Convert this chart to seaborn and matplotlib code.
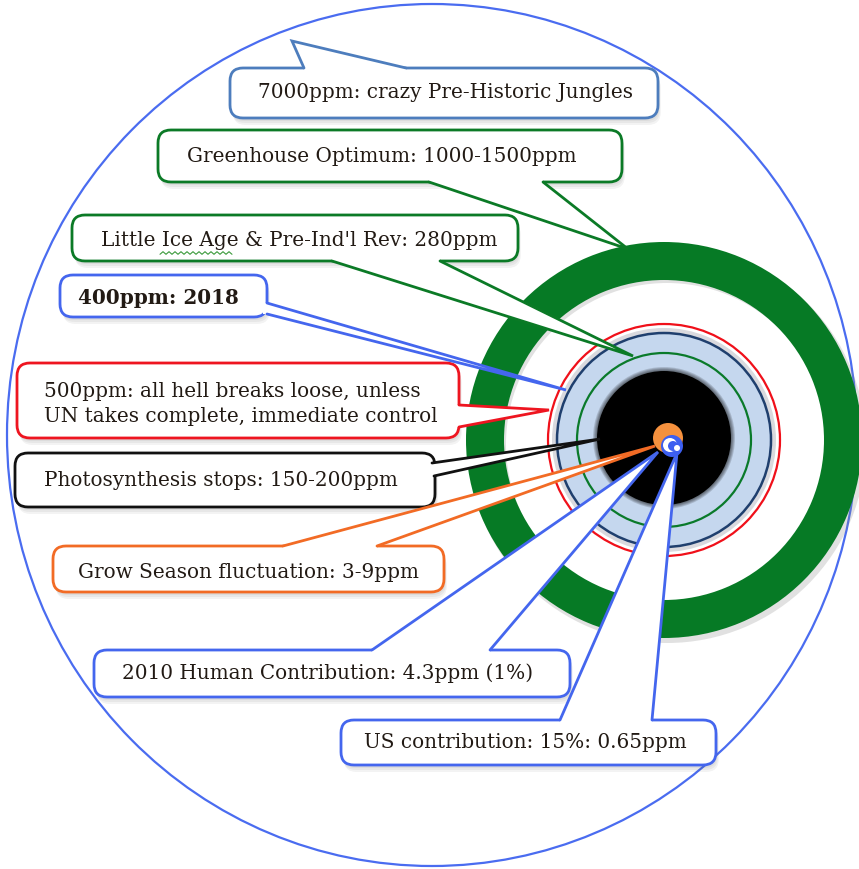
import numpy as np
import pandas as pd
import matplotlib.pyplot as plt
import seaborn as sns
from matplotlib.patches import Circle, Ellipse, Annulus, FancyBboxPatch, Polygon

sns.set_theme(style="white")
plt.rcParams['font.family'] = ['DejaVu Serif', 'Liberation Serif']

# callout texts, outline colours
labels = [
    "7000ppm: crazy Pre-Historic Jungles",
    "Greenhouse Optimum: 1000-1500ppm",
    "Little Ice Age & Pre-Ind'l Rev: 280ppm",
    "400ppm: 2018",
    "500ppm: all hell breaks loose, unless\nUN takes complete, immediate control",
    "Photosynthesis stops: 150-200ppm",
    "Grow Season fluctuation: 3-9ppm",
    "2010 Human Contribution: 4.3ppm (1%)",
    "US contribution: 15%: 0.65ppm",
]
colors = ["#4d7dbd", "#0b7a26", "#0b7a26", "#4466ee", "#ee1520",
          "#111111", "#f26b25", "#4466ee", "#4466ee"]
bold = [False, False, False, True, False, False, False, False, False]

# box extents (left, top, right, bottom) in pixels
boxes = [(230, 68, 658, 118), (158, 130, 622, 182), (72, 215, 518, 261),
         (60, 275, 267, 317), (17, 363, 459, 438), (15, 453, 435, 507),
         (53, 546, 444, 592), (94, 650, 570, 697), (341, 720, 716, 765)]
text_pos = [(258, 93), (187, 157), (101, 241), (78, 298), (44, 404),
            (44, 480), (78, 573), (122, 673), (364, 743)]

# tails: base point 1, tip, base point 2, inward direction
tails = [((304, 68), (292, 41), (406, 68), (0, 1)),
         ((429, 182), (628, 249), (543, 182), (0, -1)),
         ((332, 261), (633, 356), (440, 261), (0, -1)),
         ((267, 303), (566, 390), (267, 314), (-1, 0)),
         ((459, 405), (549, 410), (459, 427), (-1, 0)),
         ((432, 463), (600, 439), (434, 476), (-1, 0)),
         ((283, 546), (655, 446), (377, 546), (0, 1)),
         ((372, 650), (658, 452), (490, 650), (0, 1)),
         ((560, 720), (677, 453), (652, 720), (0, 1))]

cx, cy = 664, 440

fig = plt.figure(figsize=(8.59, 8.69), dpi=100)
ax = fig.add_axes([0, 0, 1, 1])

# outer big circle
ax.add_patch(Ellipse((432, 435), 850, 862, fc='none', ec="#4a6cf0", lw=1.6, zorder=1))

# rings
ax.add_patch(Annulus((cx + 3, cy + 4), 199, 38, fc='#888888', ec='none', alpha=0.25, zorder=1.5))
ax.add_patch(Annulus((cx, cy), 198, 38, fc="#067a25", ec='none', zorder=2))
ax.add_patch(Circle((cx, cy), 116, fc='white', ec="#f0101a", lw=1.6, zorder=2))
ax.add_patch(Annulus((cx, cy), 112, 5, fc='#d9d9de', ec='none', zorder=2))
ax.add_patch(Circle((cx, cy), 107, fc="#c5d7ee", ec="#1f3f6e", lw=1.8, zorder=2))
ax.add_patch(Circle((cx, cy), 87, fc='none', ec="#0a7a2a", lw=1.6, zorder=2))
for r in np.arange(71, 67, -1):
    ax.add_patch(Circle((cx, cy - 2), r, fc='black', ec='none', alpha=0.15, zorder=2))
ax.add_patch(Circle((cx, cy - 2), 67, fc='black', ec='none', zorder=2))

# boxes with soft shadows
for (l, t, r, b), col in zip(boxes, colors):
    for off in [7, 5, 3]:
        ax.add_patch(FancyBboxPatch((l + off * 0.4, t + off), r - l, b - t,
                                    boxstyle="round,pad=0,rounding_size=13",
                                    fc='#555555', ec='none', alpha=0.07, zorder=3))
    ax.add_patch(FancyBboxPatch((l, t), r - l, b - t,
                                boxstyle="round,pad=0,rounding_size=13",
                                fc='white', ec=col, lw=2.0, zorder=4))

# tails
for (b1, tip, b2, d), col in zip(tails, colors):
    p1 = (b1[0] + 4 * d[0], b1[1] + 4 * d[1])
    p2 = (b2[0] + 4 * d[0], b2[1] + 4 * d[1])
    ax.add_patch(Polygon([p1, b1, tip, b2, p2], closed=True, fc='white', ec='none', zorder=5))
    seg = pd.DataFrame({'x': [b1[0], tip[0], b2[0]], 'y': [b1[1], tip[1], b2[1]]})
    sns.lineplot(data=seg, x='x', y='y', sort=False, estimator=None, ax=ax,
                 color=col, lw=2.0, zorder=6, solid_joinstyle='miter')

# centre dots
ax.add_patch(Circle((668, 438), 15, fc="#f5913e", ec='none', zorder=7))
ax.add_patch(Circle((672, 446), 11, fc="#3d5ff0", ec='none', zorder=7))
ax.add_patch(Circle((670, 445), 7, fc='white', ec='none', zorder=7))
ax.add_patch(Circle((673, 446), 5, fc="#3d5ff0", ec='none', zorder=7))
ax.add_patch(Circle((677, 448), 3, fc='white', ec='none', zorder=7))

# texts
for lab, (x, y), bw in zip(labels, text_pos, bold):
    ax.text(x, y, lab, fontsize=14.4, color="#221a14", ha='left', va='center',
            fontweight='bold' if bw else 'normal', linespacing=1.45, zorder=8)

# spell-check squiggle under "Ice Age"
sx = np.linspace(160, 232, 25)
ax.plot(sx, 253 + 1.3 * np.where(np.arange(25) % 2 == 0, 1, -1), color="#3a9a3a", lw=0.8, zorder=8)

ax.set_xlim(0, 859)
ax.set_ylim(869, 0)
ax.axis('off')
fig.savefig('out.png', dpi=100)
